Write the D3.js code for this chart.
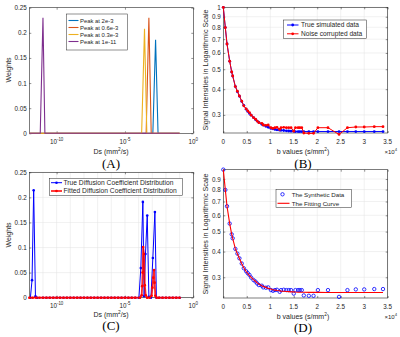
<!DOCTYPE html>
<html>
<head>
<meta charset="utf-8">
<script src="https://cdn.jsdelivr.net/npm/d3@7"></script>
<style>
  body { margin: 0; background: #fff; }
  text { font-family: "Liberation Sans", Arial, sans-serif; fill: #262626; }
  .panel-label { font-family: "Liberation Serif", "Times New Roman", serif; fill: #000; }
</style>
</head>
<body>
<div id="app"></div>
<script>
// ---------- data ----------
// panel A: four single-peak distributions, [log10(Ds), weight]
const peakNames = ["Peak at 2e-3", "Peak at 0.6e-3", "Peak at 0.3e-3", "Peak at 1e-11"];
const peakColors = ["#0072BD", "#D95319", "#EDB120", "#7E2F8E"];
const peak2e3  = [[-12, 0], [-2.96, 0], [-2.76, 0.186], [-2.58, 0], [-1, 0]];
const peak06e3 = [[-12, 0], [-3.45, 0], [-3.25, 0.23], [-3.08, 0], [-1, 0]];
const peak03e3 = [[-12, 0], [-3.78, 0], [-3.57, 0.208], [-3.4, 0], [-1, 0]];
const peak1e11 = [[-12, 0], [-11.2, 0], [-11.0, 0.23], [-10.86, 0], [-1, 0]];

// weight axis ticks
const weightTicks = [0, 0.05, 0.1, 0.15, 0.2, 0.25];
const dsTickExp = [-10, -5, 0];

// panel B / D: b values and signals
const bValues = [0, 430, 790, 1360, 1790, 2000, 2570, 3000, 3430, 3930, 4360, 4860, 5210, 5570,
  5930, 6430, 6860, 7210, 7570, 8210, 8500, 9070, 9570, 10140, 10570, 11000, 11430, 12000,
  12290, 12860, 13430, 13930, 14430, 15000, 15360, 15930, 16290, 16710, 17140, 18210, 19210,
  20140, 22290, 24640, 26430, 28210, 30000, 32140, 34000];
const trueSignal = [1.000, 0.797, 0.664, 0.547, 0.485, 0.464, 0.412, 0.389, 0.370, 0.349, 0.334,
  0.320, 0.312, 0.305, 0.299, 0.291, 0.285, 0.280, 0.276, 0.270, 0.268, 0.264, 0.261, 0.258,
  0.257, 0.255, 0.254, 0.253, 0.2525, 0.252, 0.251, 0.2505, 0.250, 0.250, 0.249, 0.249, 0.249,
  0.249, 0.249, 0.249, 0.249, 0.249, 0.249, 0.249, 0.249, 0.249, 0.249, 0.249, 0.249];
const noisySignal = [1.000, 0.797, 0.664, 0.547, 0.485, 0.464, 0.412, 0.391, 0.371, 0.350, 0.332,
  0.321, 0.314, 0.308, 0.299, 0.291, 0.286, 0.280, 0.275, 0.273, 0.268, 0.267, 0.268, 0.260,
  0.258, 0.260, 0.261, 0.255, 0.260, 0.261, 0.260, 0.260, 0.260, 0.250, 0.260, 0.260, 0.260,
  0.260, 0.245, 0.244, 0.244, 0.260, 0.260, 0.241, 0.260, 0.262, 0.262, 0.263, 0.263];
const fitSignal = [1.000, 0.797, 0.664, 0.547, 0.485, 0.464, 0.412, 0.390, 0.370, 0.349, 0.334,
  0.320, 0.313, 0.306, 0.300, 0.292, 0.287, 0.282, 0.278, 0.273, 0.271, 0.268, 0.265, 0.263,
  0.261, 0.260, 0.259, 0.258, 0.257, 0.2565, 0.256, 0.2555, 0.255, 0.255, 0.2545, 0.254, 0.254,
  0.254, 0.254, 0.2535, 0.2535, 0.2535, 0.253, 0.253, 0.253, 0.253, 0.253, 0.253, 0.253];
const bTicks = [0, 5000, 10000, 15000, 20000, 25000, 30000, 35000];
const bTickLabels = ["0", "0.5", "1", "1.5", "2", "2.5", "3", "3.5"];
const sigTicks = [0.3, 0.4, 0.5, 0.6, 0.7, 0.8, 0.9, 1];

// panel C: sampling grid (log10 Ds) and peaks of true / fitted distributions
const cGridLog = [-12, -11.75, -11.5, -11.25, -11, -10.75, -10.5, -10.25, -10, -9.75, -9.5, -9.25,
  -9, -8.75, -8.5, -8.25, -8, -7.75, -7.5, -7.25, -7, -6.75, -6.5, -6.25, -6, -5.75, -5.5, -5.25,
  -5, -4.75, -4.5, -4.25, -4, -3.75, -3.5, -3.25, -3, -2.75, -2.5, -2.25, -2, -1.75, -1.5, -1.25, -1];
const cTruePeaks = [[-11.92, 0], [-11.8, 0.035], [-11.68, 0.214], [-11.55, 0.003], [-11.42, 0],
  [-3.98, 0], [-3.84, 0.059], [-3.69, 0.191], [-3.6, 0.003], [-3.5, 0.087], [-3.37, 0.164],
  [-3.25, 0.002], [-3.1, 0], [-2.96, 0.079], [-2.81, 0.171], [-2.7, 0]];
const cFitPeaks = [[-3.9, 0], [-3.78, 0.005], [-3.74, 0.023], [-3.71, 0.05], [-3.67, 0.101],
  [-3.61, 0.087], [-3.55, 0.025], [-3.48, 0.005], [-3.38, 0], [-3.2, 0], [-3.05, 0.004],
  [-2.99, 0.02], [-2.93, 0.04], [-2.87, 0.055], [-2.83, 0.03], [-2.78, 0.004], [-2.68, 0]];

// ---------- drawing ----------
const svg = d3.select("#app").append("svg")
  .attr("width", 400)
  .attr("height", 337);

const axisColor = "#262626";
const gridColor = "#e3e3e3";

function frame(x, y) {
  const [x0, x1] = x.range(), [y1, y0] = y.range();
  svg.append("rect")
    .attr("x", x0).attr("y", y0)
    .attr("width", x1 - x0).attr("height", y1 - y0)
    .attr("fill", "none")
    .attr("stroke", axisColor)
    .attr("stroke-width", 0.6);
}

function ticksOnly(g) {
  g.select(".domain").remove();
  g.selectAll(".tick line").attr("stroke", axisColor).attr("stroke-width", 0.5);
}

function linearYAxis(x, y, values, fmt) {
  const [x0, x1] = x.range();
  svg.append("g")
    .attr("transform", `translate(${x0},0)`)
    .call(d3.axisLeft(y).tickValues(values).tickSize(-2).tickPadding(2.5).tickFormat(fmt))
    .call(ticksOnly)
    .call(g => g.selectAll("text").attr("font-size", 6.3).attr("fill", axisColor));
  svg.append("g")
    .attr("transform", `translate(${x1},0)`)
    .call(d3.axisRight(y).tickValues(values).tickSize(-2).tickFormat(""))
    .call(ticksOnly);
}

function xTicks(x, y, values) {
  const [y1, y0] = y.range();
  svg.append("g")
    .attr("transform", `translate(0,${y1})`)
    .call(d3.axisBottom(x).tickValues(values).tickSize(-2).tickFormat(""))
    .call(ticksOnly);
  svg.append("g")
    .attr("transform", `translate(0,${y0})`)
    .call(d3.axisTop(x).tickValues(values).tickSize(-2).tickFormat(""))
    .call(ticksOnly);
}

function powerLabel(x, y, base, exp, size, anchor) {
  const t = svg.append("text")
    .attr("x", x).attr("y", y)
    .attr("font-size", size)
    .attr("text-anchor", anchor || "middle")
    .attr("fill", axisColor);
  t.append("tspan").text(base);
  t.append("tspan").attr("dy", -size * 0.4).attr("font-size", size * 0.7).text(exp);
}

function yLabel(text, cx, cy, size) {
  svg.append("text")
    .attr("transform", `translate(${cx},${cy}) rotate(-90)`)
    .attr("text-anchor", "middle")
    .attr("font-size", size)
    .text(text);
}

function dsLabel(cx, y) {
  const t = svg.append("text")
    .attr("x", cx).attr("y", y)
    .attr("text-anchor", "middle")
    .attr("font-size", 7);
  t.append("tspan").text("Ds (mm");
  t.append("tspan").attr("dy", -2.8).attr("font-size", 4.8).text("2");
  t.append("tspan").attr("dy", 2.8).text("/s)");
}

function bLabel(cx, y) {
  const t = svg.append("text")
    .attr("x", cx).attr("y", y)
    .attr("text-anchor", "middle")
    .attr("font-size", 7);
  t.append("tspan").text("b values (s/mm");
  t.append("tspan").attr("dy", -2.8).attr("font-size", 4.8).text("2");
  t.append("tspan").attr("dy", 2.8).text(")");
}

function panelLabel(text, cx, y) {
  svg.append("text")
    .attr("class", "panel-label")
    .attr("x", cx).attr("y", y)
    .attr("text-anchor", "middle")
    .attr("font-size", 13)
    .text(text);
}

function legendBox(x, y, w, h) {
  svg.append("rect")
    .attr("x", x).attr("y", y)
    .attr("width", w).attr("height", h)
    .attr("fill", "#fff")
    .attr("stroke", axisColor)
    .attr("stroke-width", 0.5);
}

const fmtW = d => d === 0 ? "0" : String(d);

// ===== Panel A =====
{
  const x = d3.scaleLog().domain([1e-12, 1]).range([29.3, 193.3]);
  const y = d3.scaleLinear().domain([0, 0.25]).range([133.3, 7.7]);
  frame(x, y);
  linearYAxis(x, y, weightTicks, fmtW);
  xTicks(x, y, dsTickExp.map(e => Math.pow(10, e)));
  dsTickExp.forEach(e => powerLabel(x(Math.pow(10, e)), 143.5, "10", e, 6.3));

  const line = d3.line().x(d => x(Math.pow(10, d[0]))).y(d => y(d[1]));
  const series = [peak2e3, peak06e3, peak03e3, peak1e11];
  series.forEach((s, i) => {
    svg.append("path")
      .datum(s)
      .attr("d", line)
      .attr("fill", "none")
      .attr("stroke", peakColors[i])
      .attr("stroke-width", 1.1);
  });

  legendBox(66.7, 14, 60.8, 36);
  peakNames.forEach((n, i) => {
    const ly = 20.5 + i * 7;
    svg.append("line")
      .attr("x1", 68.5).attr("x2", 78.5).attr("y1", ly).attr("y2", ly)
      .attr("stroke", peakColors[i]).attr("stroke-width", 1.1);
    svg.append("text")
      .attr("x", 80).attr("y", ly + 2.1)
      .attr("font-size", 5.9)
      .text(n);
  });

  yLabel("Weights", 11, 70, 7);
  dsLabel(111, 154);
  panelLabel("(A)", 111, 168);
}

// ===== Panel B =====
{
  const x = d3.scaleLinear().domain([0, 35000]).range([223.3, 387.7]);
  const y = d3.scaleLog().domain([0.245, 1]).range([133, 7.3]);

  bTicks.forEach(t => svg.append("line")
    .attr("x1", x(t)).attr("x2", x(t)).attr("y1", 7.3).attr("y2", 133)
    .attr("stroke", gridColor).attr("stroke-width", 0.5));
  sigTicks.forEach(t => svg.append("line")
    .attr("x1", 223.3).attr("x2", 387.7).attr("y1", y(t)).attr("y2", y(t))
    .attr("stroke", gridColor).attr("stroke-width", 0.5));

  frame(x, y);
  linearYAxis(x, y, sigTicks, d => String(d));
  xTicks(x, y, bTicks);
  bTicks.forEach((t, i) => svg.append("text")
    .attr("x", x(t)).attr("y", 144)
    .attr("text-anchor", "middle").attr("font-size", 6.3).attr("fill", axisColor)
    .text(bTickLabels[i]));
  powerLabel(397, 153.5, "\u00d710", "4", 6, "end");

  const line = d3.line().x((d, i) => x(bValues[i])).y(d => y(d));
  [[trueSignal, "#0000ff"], [noisySignal, "#ff0000"]].forEach(([s, c]) => {
    svg.append("path").datum(s).attr("d", line)
      .attr("fill", "none").attr("stroke", c).attr("stroke-width", 1);
    svg.append("g").selectAll("circle")
      .data(s).enter().append("circle")
      .attr("cx", (d, i) => x(bValues[i]))
      .attr("cy", d => y(d))
      .attr("r", 1.4)
      .attr("fill", c);
  });

  legendBox(283.3, 20, 83.4, 18.3);
  [["True simulated data", "#0000ff"], ["Noise corrupted data", "#ff0000"]].forEach(([n, c], i) => {
    const ly = 25 + i * 8.8;
    svg.append("line").attr("x1", 287).attr("x2", 298.5).attr("y1", ly).attr("y2", ly)
      .attr("stroke", c).attr("stroke-width", 1);
    svg.append("circle").attr("cx", 292.7).attr("cy", ly).attr("r", 1.4).attr("fill", c);
    svg.append("text").attr("x", 301).attr("y", ly + 2.3).attr("font-size", 6.6).text(n);
  });

  yLabel("Signal Intensities in Logarithmic Scale", 207.5, 70, 7.2);
  bLabel(303, 153.5);
  panelLabel("(B)", 303, 168);
}

// ===== Panel C =====
{
  const x = d3.scaleLog().domain([1e-12, 1]).range([29.3, 193.3]);
  const y = d3.scaleLinear().domain([0, 0.25]).range([297.7, 172.3]);

  d3.range(-11, 0).forEach(e => svg.append("line")
    .attr("x1", x(Math.pow(10, e))).attr("x2", x(Math.pow(10, e)))
    .attr("y1", 172.3).attr("y2", 297.7)
    .attr("stroke", gridColor).attr("stroke-width", 0.5));
  weightTicks.forEach(t => svg.append("line")
    .attr("x1", 29.3).attr("x2", 193.3).attr("y1", y(t)).attr("y2", y(t))
    .attr("stroke", gridColor).attr("stroke-width", 0.5));

  frame(x, y);
  linearYAxis(x, y, weightTicks, fmtW);
  xTicks(x, y, dsTickExp.map(e => Math.pow(10, e)));
  dsTickExp.forEach(e => powerLabel(x(Math.pow(10, e)), 307.5, "10", e, 6.3));

  function withBaseline(peaks) {
    const base = cGridLog
      .filter(l => peaks.every(p => Math.abs(p[0] - l) > 0.12))
      .filter(l => !(l > peaks[0][0] && l < peaks[peaks.length - 1][0] && peaks.some(p => p[1] > 0 && Math.abs(p[0] - l) < 0.4)))
      .map(l => [l, 0]);
    return base.concat(peaks).sort((a, b) => a[0] - b[0]);
  }
  const trueSeries = withBaseline(cTruePeaks);
  const fitSeries = withBaseline(cFitPeaks);

  const line = d3.line().x(d => x(Math.pow(10, d[0]))).y(d => y(d[1]));
  svg.append("path").datum(trueSeries).attr("d", line)
    .attr("fill", "none").attr("stroke", "#0000ff").attr("stroke-width", 1);
  svg.append("g").selectAll("circle").data(trueSeries).enter().append("circle")
    .attr("cx", d => x(Math.pow(10, d[0]))).attr("cy", d => y(d[1]))
    .attr("r", 1.3).attr("fill", "#0000ff");
  svg.append("path").datum(fitSeries).attr("d", line)
    .attr("fill", "none").attr("stroke", "#ff0000").attr("stroke-width", 1.8).attr("stroke-opacity", 0.85);
  svg.append("g").selectAll("circle").data(fitSeries).enter().append("circle")
    .attr("cx", d => x(Math.pow(10, d[0]))).attr("cy", d => y(d[1]))
    .attr("r", 1.3).attr("fill", "#ff0000");

  legendBox(49.3, 178.3, 133.4, 17.4);
  [["True Diffusion Coefficient Distribution", "#0000ff", 1], ["Fitted Diffusion Coefficient Distribution", "#ff0000", 1.8]]
    .forEach(([n, c, w], i) => {
      const ly = 182.7 + i * 8.3;
      svg.append("line").attr("x1", 51).attr("x2", 62).attr("y1", ly).attr("y2", ly)
        .attr("stroke", c).attr("stroke-width", w).attr("stroke-opacity", i ? 0.85 : 1);
      svg.append("circle").attr("cx", 56.5).attr("cy", ly).attr("r", 1.3).attr("fill", c);
      svg.append("text").attr("x", 63.5).attr("y", ly + 2.3).attr("font-size", 6.7).text(n);
    });

  yLabel("Weights", 11, 235, 7);
  dsLabel(111, 316.5);
  panelLabel("(C)", 111, 330);
}

// ===== Panel D =====
{
  const x = d3.scaleLinear().domain([0, 35000]).range([223.3, 387.7]);
  const y = d3.scaleLog().domain([0.238, 0.999]).range([298, 169.7]);
  const dTicks = sigTicks.filter(t => t < 1);

  bTicks.forEach(t => svg.append("line")
    .attr("x1", x(t)).attr("x2", x(t)).attr("y1", 169.7).attr("y2", 298)
    .attr("stroke", gridColor).attr("stroke-width", 0.5));
  dTicks.forEach(t => svg.append("line")
    .attr("x1", 223.3).attr("x2", 387.7).attr("y1", y(t)).attr("y2", y(t))
    .attr("stroke", gridColor).attr("stroke-width", 0.5));

  frame(x, y);
  linearYAxis(x, y, dTicks, d => String(d));
  xTicks(x, y, bTicks);
  bTicks.forEach((t, i) => svg.append("text")
    .attr("x", x(t)).attr("y", 309)
    .attr("text-anchor", "middle").attr("font-size", 6.3).attr("fill", axisColor)
    .text(bTickLabels[i]));
  powerLabel(397, 318.5, "\u00d710", "4", 6, "end");

  svg.append("g").selectAll("circle").data(noisySignal).enter().append("circle")
    .attr("cx", (d, i) => x(bValues[i])).attr("cy", d => y(d))
    .attr("r", 1.7).attr("fill", "none").attr("stroke", "#0000ff").attr("stroke-width", 0.8);
  svg.append("path").datum(fitSignal)
    .attr("d", d3.line().x((d, i) => x(bValues[i])).y(d => y(d)))
    .attr("fill", "none").attr("stroke", "#ff0000").attr("stroke-width", 1.1);

  legendBox(276, 189.3, 75.7, 18.4);
  svg.append("circle").attr("cx", 282.5).attr("cy", 194.3).attr("r", 1.7)
    .attr("fill", "none").attr("stroke", "#0000ff").attr("stroke-width", 0.8);
  svg.append("text").attr("x", 291.7).attr("y", 196.5).attr("font-size", 6.2).text("The Synthetic Data");
  svg.append("line").attr("x1", 277.5).attr("x2", 289.5).attr("y1", 203.3).attr("y2", 203.3)
    .attr("stroke", "#ff0000").attr("stroke-width", 1.1);
  svg.append("text").attr("x", 291.7).attr("y", 205.5).attr("font-size", 6.2).text("The Fitting Curve");

  yLabel("Signal Intensities in Logarithmic Scale", 207.5, 234, 7.2);
  bLabel(303, 318.5);
  panelLabel("(D)", 303, 332);
}
</script>
</body>
</html>
